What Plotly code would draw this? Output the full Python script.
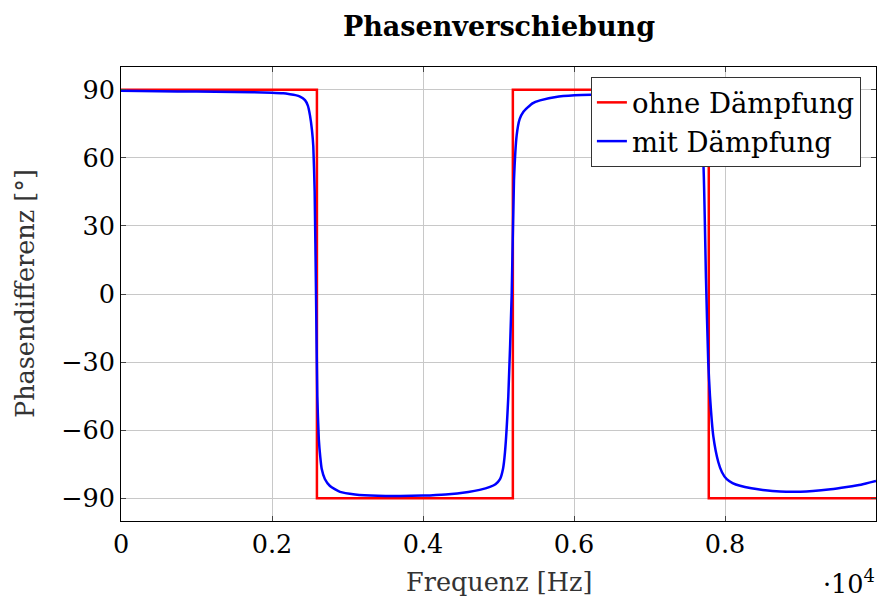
import plotly.graph_objects as go

# Red: undamped phase (step function)
red_x = [0, 2595, 2595, 5190, 5190, 7785, 7785, 10000]
red_y = [90, 90, -90, -90, 90, 90, -90, -90]

# Blue: damped phase
blue_x = [0, 500, 1000, 1500, 2000, 2150, 2238, 2310, 2371, 2437, 2475, 2503, 2530,
          2547, 2565, 2583, 2600, 2620, 2640, 2658, 2700, 2768, 2901, 3100, 3400,
          3700, 4000, 4300, 4600, 4750, 4887, 4960, 5020, 5060, 5086, 5130, 5175,
          5205, 5241, 5280, 5328, 5450, 5550, 5800, 6100, 6400, 6800, 7000, 7300,
          7500, 7600, 7680, 7713, 7748, 7778, 7801, 7845, 7911, 7960, 8023, 8100,
          8199, 8350, 8500, 8728, 9000, 9165, 9400, 9612, 9800, 10000]
blue_y = [89.5, 89.3, 89.2, 89.0, 88.7, 88.4, 88.0, 87.6, 87.0, 85.4, 83.0, 78.7, 72,
          65, 45, 0, -45, -64, -72, -77, -81.5, -84.6, -87.2, -88.3, -88.9,
          -89.0, -88.8, -88.3, -87.2, -86.3, -85, -83.8, -81.6, -77, -69.7, -45, 0,
          50, 70, 77, 80.2, 84, 85.3, 87, 87.7, 87.7, 87.2, 86.8, 85.5,
          83, 78, 68, 58, 7, -30, -45, -62.6, -74, -78.5, -81.6, -83.3,
          -84.5, -85.6, -86.3, -87, -87.1, -86.8, -86, -85, -84, -82.4]

x_ticks = [0, 2000, 4000, 6000, 8000]
x_tick_labels = ["0", "0.2", "0.4", "0.6", "0.8"]
y_ticks = [-90, -60, -30, 0, 30, 60, 90]

FONT = "DejaVu Serif"
fs = 25.5

fig = go.Figure()
fig.add_trace(go.Scatter(x=red_x, y=red_y, mode="lines", name="ohne Dämpfung",
                         line=dict(color="#ff0000", width=2.5)))
fig.add_trace(go.Scatter(x=blue_x, y=blue_y, mode="lines", name="mit Dämpfung",
                         line=dict(color="#0000ff", width=2.5, shape="spline", smoothing=0.5)))

axis_common = dict(showline=True, linecolor="black", linewidth=1, mirror="ticks",
                   ticks="inside", ticklen=5, tickcolor="#444", tickwidth=1,
                   showgrid=True, gridcolor="#c8c8c8", gridwidth=1, zeroline=False,
                   tickfont=dict(family=FONT, size=fs, color="black"))

fig.update_xaxes(range=[0, 10000], tickvals=x_ticks, ticktext=x_tick_labels, **axis_common)
fig.update_yaxes(range=[-100, 100], tickvals=y_ticks, **axis_common)

fig.update_layout(
    width=877, height=603,
    margin=dict(l=121, r=1, t=67, b=82),
    paper_bgcolor="white", plot_bgcolor="white",
    title=dict(text="<b>Phasenverschiebung</b>", x=0.569, xanchor="center",
               y=1 - 27 / 603, yanchor="middle", yref="container",
               font=dict(family=FONT, size=27, color="black")),
    legend=dict(x=0.98, y=0.978, xanchor="right", yanchor="top",
                bordercolor="#333", borderwidth=1, bgcolor="white",
                font=dict(family=FONT, size=27.5, color="black"),
                tracegroupgap=0, itemwidth=30),
    showlegend=True,
    annotations=[
        dict(text="Frequenz [Hz]", xref="paper", yref="paper", x=0.5, y=-(582 - 521) / 454,
             xanchor="center", yanchor="middle", showarrow=False,
             font=dict(family=FONT, size=fs, color="#333")),
        dict(text="·10<sup>4</sup>", xref="paper", yref="paper", x=(849 - 121) / 755,
             y=-(582 - 521) / 454, xanchor="center", yanchor="middle", showarrow=False,
             font=dict(family=FONT, size=fs, color="black")),
        dict(text="Phasendifferenz [°]", xref="paper", yref="paper", x=(25 - 121) / 755,
             y=0.5, xanchor="center", yanchor="middle", textangle=-90, showarrow=False,
             font=dict(family=FONT, size=fs, color="#333")),
    ],
)

fig.write_html("out.html")
